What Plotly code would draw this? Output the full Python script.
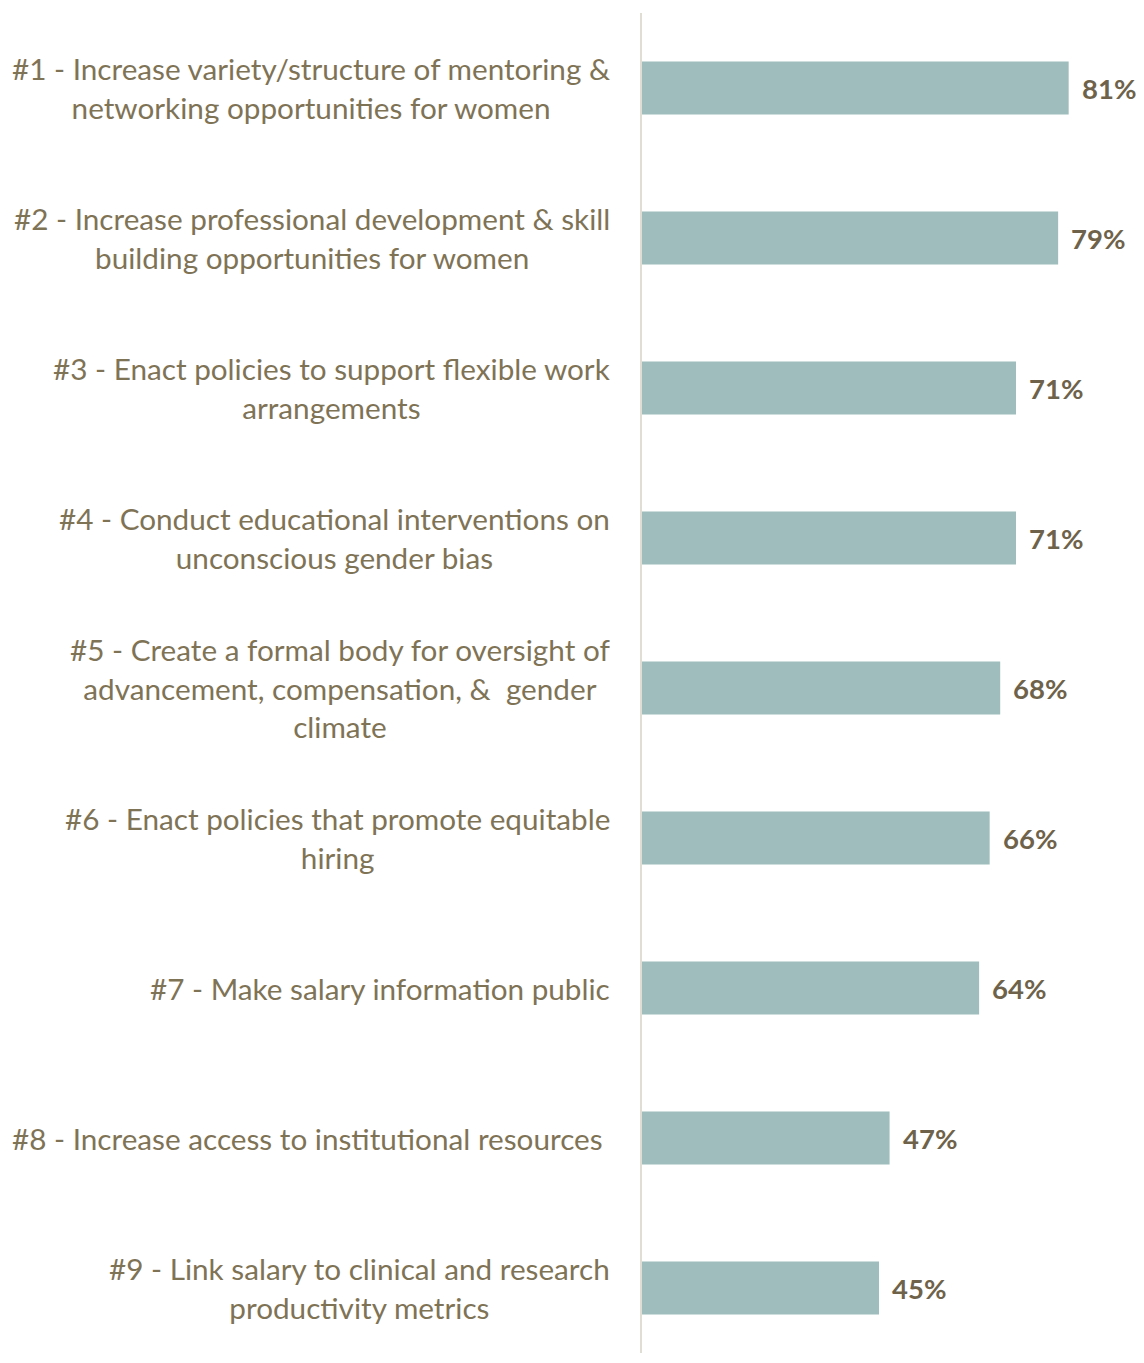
import plotly.graph_objects as go

categories = [
    "#1 - Increase variety/structure of mentoring &<br>networking opportunities for women",
    "#2 - Increase professional development & skill<br>building opportunities for women",
    "#3 - Enact policies to support flexible work<br>arrangements",
    "#4 - Conduct educational interventions on<br>unconscious gender bias",
    "#5 - Create a formal body for oversight of<br>advancement, compensation, &  gender<br>climate",
    "#6 - Enact policies that promote equitable<br>hiring",
    "#7 - Make salary information public",
    "#8 - Increase access to institutional resources ",
    "#9 - Link salary to clinical and research<br>productivity metrics",
]
values = [81, 79, 71, 71, 68, 66, 64, 47, 45]
value_labels = ["81%", "79%", "71%", "71%", "68%", "66%", "64%", "47%", "45%"]

bar_color = "#9ebdbc"
label_color = "#7f7356"
value_color = "#6e634a"
font_family = "Lato, 'Open Sans', sans-serif"

fig = go.Figure(go.Bar(
    x=values,
    y=list(range(len(categories))),
    orientation="h",
    marker=dict(color=bar_color, line=dict(width=0)),
    width=0.353,
    hoverinfo="skip",
))

annotations = []
for i, (cat, v, vl) in enumerate(zip(categories, values, value_labels)):
    annotations.append(dict(
        x=0, xref="paper", y=i, yref="y", text=cat, showarrow=False,
        xanchor="right", yanchor="middle", align="center", xshift=-30,
        font=dict(family=font_family, size=29.7, color=label_color),
    ))
    annotations.append(dict(
        x=v, xref="x", y=i, yref="y", text="<b>" + vl + "</b>", showarrow=False,
        xanchor="left", yanchor="middle", xshift=11,
        font=dict(family=font_family, size=27.5, color=value_color),
    ))

fig.update_layout(
    width=1136, height=1345,
    margin=dict(l=634, r=0, t=5, b=0),
    paper_bgcolor="white", plot_bgcolor="white",
    showlegend=False,
    annotations=annotations,
    xaxis=dict(range=[0, 95.3], showgrid=False, zeroline=False, showticklabels=False, showline=False),
    yaxis=dict(range=[8.433, -0.5], showgrid=False, zeroline=False, showticklabels=False,
               showline=True, linecolor="#e0ddd3", linewidth=2),
)

fig.write_html("out.html")
